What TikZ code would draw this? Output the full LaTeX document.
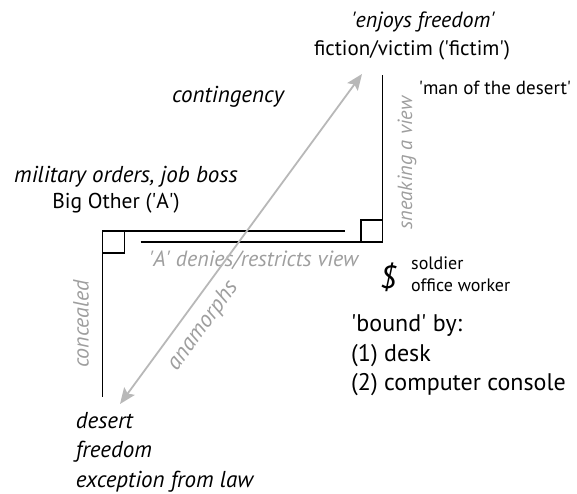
\documentclass[tikz,border=0pt]{standalone}
\usepackage{fontspec}
\setmainfont{PT Sans}
\usetikzlibrary{arrows.meta}

\newcommand{\sq}{\textquotesingle}
\newcommand{\fsz}[2]{\fontsize{#1}{#2}\selectfont}

\tikzset{
  wall/.style={line width=1.8pt},
  corner/.style={line width=1.6pt},
  look/.style={draw=black!28, line width=1.8pt,
    {Stealth[length=16pt,width=13pt,inset=3pt]}-{Stealth[length=16pt,width=13pt,inset=3pt]}},
  lab/.style={inner sep=0pt, font=\fsz{22}{26}},
  small/.style={inner sep=0pt, font=\fsz{18}{22}},
  side/.style={inner sep=0pt, text=black!38, font=\fsz{22}{26}\itshape},
}

\begin{document}
\begin{tikzpicture}[x=1pt, y=-1pt]
\useasboundingbox (0,0) rectangle (577,494);

% the two walls
\draw[wall] (102.5,396.7) -- (102.5,230.7) -- (345,230.7);
\draw[corner] (102.5,230.7) rectangle (124.3,252.7);
\draw[wall] (140.7,242.3) -- (382.5,242.3) -- (382.5,75);
\draw[corner] (360.7,220) rectangle (382.5,242.3);

% top
\node[lab, font=\fsz{22}{26}\itshape] (enjoys) at (423,22) {\sq enjoys freedom\sq};
\node[lab, font=\fsz{21}{26}] (fictim) at (412,50) {fiction/victim (\sq fictim\sq)};
\node[small, font=\fsz{19}{22}] (desertman) at (495,88) {\sq man of the desert\sq};
\node[lab, font=\fsz{23}{26}\itshape] (contingency) at (228,97) {contingency};
\node[side, rotate=90, font=\fsz{20.5}{24}\itshape] (sneaking) at (407,163) {sneaking a view};

% Big Other
\node[lab, font=\fsz{23}{26}\itshape] (orders) at (126,177) {military orders, job boss};
\node[lab, font=\fsz{21.5}{26}] (bigother) at (116,203) {Big Other (\sq A\sq)};
\node[side] (denies) at (253.6,260) {\sq A\sq{} denies/restricts view};
\node[side, rotate=90] (concealed) at (81,324) {concealed};

% subject
\node[inner sep=0pt, font=\fsz{32}{32}\itshape] (subject) at (388,277) {\$};
\node[small, anchor=west, align=left] (roles) at (411,274) {soldier\\office worker};
\node[lab, anchor=west, align=left, font=\fsz{24}{29.5}] (bound) at (351,355.5)
  {\sq bound\sq{} by:\\(1) desk\\(2) computer console};

% bottom
\node[lab, anchor=west, align=left, font=\fsz{23}{29.5}\itshape] (desert) at (75.7,452)
  {desert\\freedom\\exception from law};

% anamorphic view
\coordinate (lowtip) at (120,404);
\coordinate (hightip) at (362,74);
\draw[look] (lowtip) -- (hightip);
\node[side, rotate=53.7, font=\fsz{23}{26}\itshape] (anamorphs) at (203,326) {anamorphs};
\end{tikzpicture}
\end{document}
